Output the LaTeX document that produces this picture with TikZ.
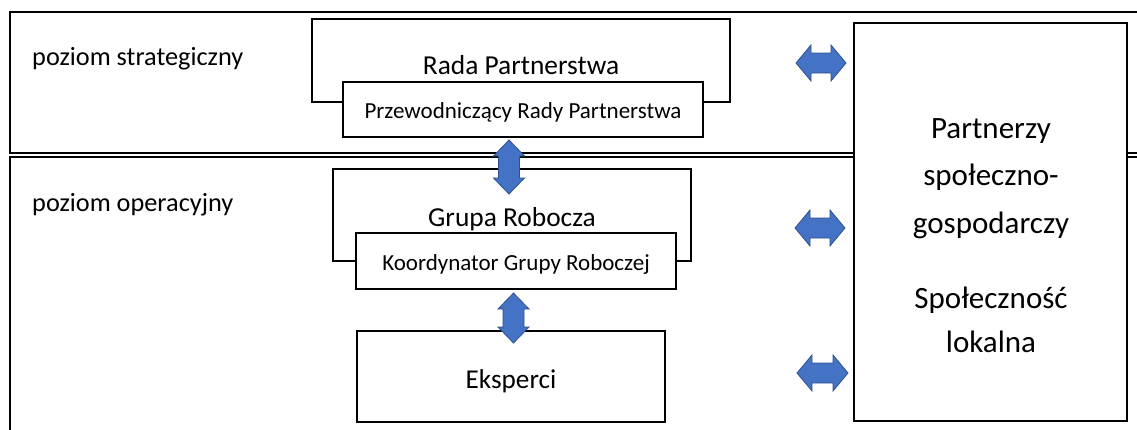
\documentclass[tikz,border=0pt]{standalone}
\usepackage{fontspec}
\setmainfont{Carlito}
\definecolor{arrfill}{HTML}{4472C4}
\definecolor{arrline}{HTML}{2F528F}
\tikzset{
  frame/.style={draw=black, line width=1.5pt},
  box/.style={draw=black, fill=white, line width=1.4pt, inner sep=0pt, rectangle},
  txt/.style={inner sep=0pt, anchor=base},
  dbl/.style={fill=arrfill, draw=arrline, line width=0.8pt, line join=miter},
}
\newcommand\DArrowH[3]{% x1, x2, yc
  \filldraw[dbl] (#1,#3) -- (#1+15,#3-18) -- (#1+15,#3-10) -- (#2-15,#3-10) -- (#2-15,#3-18) -- (#2,#3)
    -- (#2-15,#3+18) -- (#2-15,#3+10) -- (#1+15,#3+10) -- (#1+15,#3+18) -- cycle;}
\newcommand\DArrowV[3]{% xc, y1, y2
  \filldraw[dbl] (#1,#2) -- (#1+15.5,#2+16) -- (#1+10.5,#2+16) -- (#1+10.5,#3-16) -- (#1+15.5,#3-16) -- (#1,#3)
    -- (#1-15.5,#3-16) -- (#1-10.5,#3-16) -- (#1-10.5,#2+16) -- (#1-15.5,#2+16) -- cycle;}
\begin{document}
\begin{tikzpicture}[x=1pt,y=-1pt]
\useasboundingbox (0,0) rectangle (1137,429);
\clip (0,0) rectangle (1137,429);
% level frames
\draw[frame] (10,12) rectangle (1160,153);
\draw[frame] (10,157) rectangle (1160,450);
\node[txt, anchor=base west, font=\fontsize{26.3}{30}\selectfont] (lstrat) at (32,65.5) {poziom strategiczny};
\node[txt, anchor=base west, font=\fontsize{26.3}{30}\selectfont] (loper) at (32,211) {poziom operacyjny};
% strategic
\node[box, minimum width=418pt, minimum height=83pt] (rada) at (521,60.5) {};
\node[txt, font=\fontsize{27.4}{31}\selectfont] (radat) at (521,74.5) {Rada Partnerstwa};
\node[box, minimum width=360pt, minimum height=55pt] (przew) at (523,109.5) {};
\node[txt, font=\fontsize{23}{27}\selectfont] (przewt) at (523,118) {Przewodniczący Rady Partnerstwa};
% operational
\node[box, minimum width=358pt, minimum height=92pt] (grupa) at (512,215) {};
\node[txt, font=\fontsize{27.4}{31}\selectfont] (grupat) at (512,226) {Grupa Robocza};
\node[box, minimum width=320pt, minimum height=56pt] (koord) at (516,261) {};
\node[txt, font=\fontsize{23}{27}\selectfont] (koordt) at (516,270.5) {Koordynator Grupy Roboczej};
\node[box, minimum width=308pt, minimum height=91pt] (eksp) at (511,376.5) {};
\node[txt, font=\fontsize{27.2}{31}\selectfont] (ekspt) at (511,388) {Eksperci};
% partners
\node[box, minimum width=273pt, minimum height=398pt] (partn) at (990.5,222) {};
\node[txt, font=\fontsize{31}{31}\selectfont] (p1) at (991,138) {Partnerzy};
\node[txt, font=\fontsize{31}{31}\selectfont] (p2) at (991,185) {społeczno-};
\node[txt, font=\fontsize{31}{31}\selectfont] (p3) at (991,233) {gospodarczy};
\node[txt, font=\fontsize{31}{31}\selectfont] (p4) at (991,308) {Społeczność};
\node[txt, font=\fontsize{31}{31}\selectfont] (p5) at (991,352) {lokalna};
% arrows
\DArrowV{509}{140}{194}
\DArrowV{513.5}{293}{343}
\DArrowH{796}{846}{63}
\DArrowH{795}{845}{228}
\DArrowH{797}{848}{373}
\end{tikzpicture}
\end{document}
